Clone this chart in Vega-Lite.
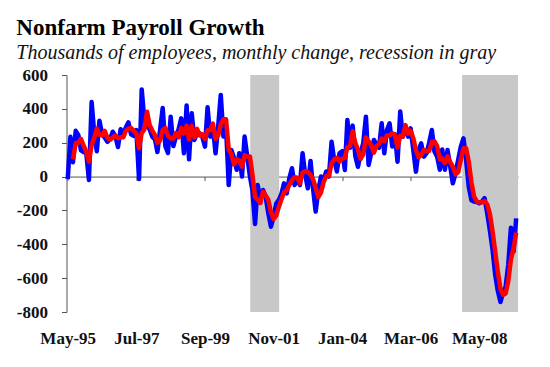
{
  "$schema": "https://vega.github.io/schema/vega-lite/v6.json",
  "width": 451.5,
  "height": 237,
  "autosize": {"type": "none"},
  "padding": {"left": 66.5, "top": 75, "right": 32, "bottom": 55},
  "background": "white",
  "title": {
    "text": "Nonfarm Payroll Growth",
    "subtitle": "Thousands of employees, monthly change, recession in gray",
    "anchor": "start",
    "frame": "bounds",
    "font": "Liberation Serif",
    "fontSize": 23,
    "fontWeight": "bold",
    "color": "#000000",
    "subtitleFont": "Liberation Serif",
    "subtitleFontSize": 20,
    "subtitleFontStyle": "italic",
    "subtitleColor": "#111111",
    "subtitlePadding": 3,
    "offset": 3
  },
  "datasets": {
    "bands": [
      {"d": "2001-02-04", "e": "2002-01-04"},
      {"d": "2007-10-16", "e": "2009-07-22"}
    ],
    "pay": [
      {"d": "1995-05-01", "v": -15},
      {"d": "1995-06-01", "v": 235},
      {"d": "1995-07-01", "v": 85, "a": 102},
      {"d": "1995-08-01", "v": 270, "a": 197},
      {"d": "1995-09-01", "v": 245, "a": 200},
      {"d": "1995-10-01", "v": 155, "a": 223},
      {"d": "1995-11-01", "v": 145, "a": 182},
      {"d": "1995-12-01", "v": 140, "a": 147},
      {"d": "1996-01-01", "v": -20, "a": 88},
      {"d": "1996-02-01", "v": 440, "a": 187},
      {"d": "1996-03-01", "v": 260, "a": 227},
      {"d": "1996-04-01", "v": 150, "a": 283},
      {"d": "1996-05-01", "v": 330, "a": 247},
      {"d": "1996-06-01", "v": 250, "a": 243},
      {"d": "1996-07-01", "v": 230, "a": 270},
      {"d": "1996-08-01", "v": 205, "a": 228},
      {"d": "1996-09-01", "v": 220, "a": 218},
      {"d": "1996-10-01", "v": 265, "a": 230},
      {"d": "1996-11-01", "v": 240, "a": 242},
      {"d": "1996-12-01", "v": 175, "a": 227},
      {"d": "1997-01-01", "v": 280, "a": 232},
      {"d": "1997-02-01", "v": 240, "a": 232},
      {"d": "1997-03-01", "v": 290, "a": 270},
      {"d": "1997-04-01", "v": 320, "a": 283},
      {"d": "1997-05-01", "v": 250, "a": 287},
      {"d": "1997-06-01", "v": 240, "a": 270},
      {"d": "1997-07-01", "v": 275, "a": 255},
      {"d": "1997-08-01", "v": -15, "a": 167},
      {"d": "1997-09-01", "v": 515, "a": 258},
      {"d": "1997-10-01", "v": 335, "a": 278},
      {"d": "1997-11-01", "v": 300, "a": 383},
      {"d": "1997-12-01", "v": 280, "a": 305},
      {"d": "1998-01-01", "v": 235, "a": 272},
      {"d": "1998-02-01", "v": 220, "a": 245},
      {"d": "1998-03-01", "v": 145, "a": 200},
      {"d": "1998-04-01", "v": 275, "a": 213},
      {"d": "1998-05-01", "v": 405, "a": 275},
      {"d": "1998-06-01", "v": 180, "a": 287},
      {"d": "1998-07-01", "v": 140, "a": 242},
      {"d": "1998-08-01", "v": 354, "a": 225},
      {"d": "1998-09-01", "v": 180, "a": 225},
      {"d": "1998-10-01", "v": 236, "a": 257},
      {"d": "1998-11-01", "v": 280, "a": 232},
      {"d": "1998-12-01", "v": 344, "a": 287},
      {"d": "1999-01-01", "v": 138, "a": 254},
      {"d": "1999-02-01", "v": 420, "a": 301},
      {"d": "1999-03-01", "v": 102, "a": 220},
      {"d": "1999-04-01", "v": 374, "a": 299},
      {"d": "1999-05-01", "v": 216, "a": 231},
      {"d": "1999-06-01", "v": 256, "a": 282},
      {"d": "1999-07-01", "v": 256, "a": 243},
      {"d": "1999-08-01", "v": 236, "a": 249},
      {"d": "1999-09-01", "v": 177, "a": 223},
      {"d": "1999-10-01", "v": 409, "a": 274},
      {"d": "1999-11-01", "v": 236, "a": 274},
      {"d": "1999-12-01", "v": 295, "a": 313},
      {"d": "2000-01-01", "v": 138, "a": 223},
      {"d": "2000-02-01", "v": 300, "a": 244},
      {"d": "2000-03-01", "v": 482, "a": 307},
      {"d": "2000-04-01", "v": 236, "a": 339},
      {"d": "2000-05-01", "v": 295, "a": 338},
      {"d": "2000-06-01", "v": -50, "a": 160},
      {"d": "2000-07-01", "v": 157, "a": 134},
      {"d": "2000-08-01", "v": 110, "a": 72},
      {"d": "2000-09-01", "v": 40, "a": 102},
      {"d": "2000-10-01", "v": 138, "a": 96},
      {"d": "2000-11-01", "v": 0, "a": 59},
      {"d": "2000-12-01", "v": 236, "a": 125},
      {"d": "2001-01-01", "v": 118, "a": 118},
      {"d": "2001-02-01", "v": 0, "a": 118},
      {"d": "2001-03-01", "v": -80, "a": 13},
      {"d": "2001-04-01", "v": -280, "a": -120},
      {"d": "2001-05-01", "v": -50, "a": -137},
      {"d": "2001-06-01", "v": -138, "a": -156},
      {"d": "2001-07-01", "v": -79, "a": -89},
      {"d": "2001-08-01", "v": -118, "a": -112},
      {"d": "2001-09-01", "v": -217, "a": -138},
      {"d": "2001-10-01", "v": -296, "a": -210},
      {"d": "2001-11-01", "v": -237, "a": -250},
      {"d": "2001-12-01", "v": -160, "a": -231},
      {"d": "2002-01-01", "v": -138, "a": -178},
      {"d": "2002-02-01", "v": -99, "a": -132},
      {"d": "2002-03-01", "v": -40, "a": -92},
      {"d": "2002-04-01", "v": -99, "a": -79},
      {"d": "2002-05-01", "v": -10, "a": -50},
      {"d": "2002-06-01", "v": 49, "a": -20},
      {"d": "2002-07-01", "v": -50, "a": -4},
      {"d": "2002-08-01", "v": -20, "a": -7},
      {"d": "2002-09-01", "v": -50, "a": -40},
      {"d": "2002-10-01", "v": 138, "a": 23},
      {"d": "2002-11-01", "v": 9, "a": 32},
      {"d": "2002-12-01", "v": -69, "a": 26},
      {"d": "2003-01-01", "v": 92, "a": 11},
      {"d": "2003-02-01", "v": -79, "a": -19},
      {"d": "2003-03-01", "v": -207, "a": -65},
      {"d": "2003-04-01", "v": -79, "a": -122},
      {"d": "2003-05-01", "v": 0, "a": -95},
      {"d": "2003-06-01", "v": -20, "a": -33},
      {"d": "2003-07-01", "v": 30, "a": 3},
      {"d": "2003-08-01", "v": 0, "a": 3},
      {"d": "2003-09-01", "v": 206, "a": 79},
      {"d": "2003-10-01", "v": 98, "a": 101},
      {"d": "2003-11-01", "v": 30, "a": 111},
      {"d": "2003-12-01", "v": 138, "a": 89},
      {"d": "2004-01-01", "v": 150, "a": 106},
      {"d": "2004-02-01", "v": 39, "a": 109},
      {"d": "2004-03-01", "v": 334, "a": 174},
      {"d": "2004-04-01", "v": 170, "a": 181},
      {"d": "2004-05-01", "v": 301, "a": 268},
      {"d": "2004-06-01", "v": 120, "a": 197},
      {"d": "2004-07-01", "v": 58, "a": 160},
      {"d": "2004-08-01", "v": 138, "a": 105},
      {"d": "2004-09-01", "v": 200, "a": 132},
      {"d": "2004-10-01", "v": 354, "a": 231},
      {"d": "2004-11-01", "v": 69, "a": 208},
      {"d": "2004-12-01", "v": 138, "a": 187},
      {"d": "2005-01-01", "v": 216, "a": 141},
      {"d": "2005-02-01", "v": 190, "a": 181},
      {"d": "2005-03-01", "v": 170, "a": 192},
      {"d": "2005-04-01", "v": 315, "a": 225},
      {"d": "2005-05-01", "v": 138, "a": 208},
      {"d": "2005-06-01", "v": 275, "a": 243},
      {"d": "2005-07-01", "v": 315, "a": 243},
      {"d": "2005-08-01", "v": 177, "a": 256},
      {"d": "2005-09-01", "v": 250, "a": 247},
      {"d": "2005-10-01", "v": 88, "a": 172},
      {"d": "2005-11-01", "v": 384, "a": 241},
      {"d": "2005-12-01", "v": 236, "a": 236},
      {"d": "2006-01-01", "v": 291, "a": 304},
      {"d": "2006-02-01", "v": 236, "a": 254},
      {"d": "2006-03-01", "v": 285, "a": 271},
      {"d": "2006-04-01", "v": 157, "a": 226},
      {"d": "2006-05-01", "v": 29, "a": 157},
      {"d": "2006-06-01", "v": 157, "a": 114},
      {"d": "2006-07-01", "v": 196, "a": 127},
      {"d": "2006-08-01", "v": 118, "a": 157},
      {"d": "2006-09-01", "v": 138, "a": 151},
      {"d": "2006-10-01", "v": 200, "a": 152},
      {"d": "2006-11-01", "v": 275, "a": 204},
      {"d": "2006-12-01", "v": 148, "a": 208},
      {"d": "2007-01-01", "v": 118, "a": 180},
      {"d": "2007-02-01", "v": 40, "a": 102},
      {"d": "2007-03-01", "v": 160, "a": 106},
      {"d": "2007-04-01", "v": 40, "a": 80},
      {"d": "2007-05-01", "v": 157, "a": 119},
      {"d": "2007-06-01", "v": 60, "a": 86},
      {"d": "2007-07-01", "v": -40, "a": 59},
      {"d": "2007-08-01", "v": 20, "a": 13},
      {"d": "2007-09-01", "v": 100, "a": 27},
      {"d": "2007-10-01", "v": 177, "a": 99},
      {"d": "2007-11-01", "v": 226, "a": 168},
      {"d": "2007-12-01", "v": 98, "a": 167},
      {"d": "2008-01-01", "v": -60, "a": 88},
      {"d": "2008-02-01", "v": -140, "a": -34},
      {"d": "2008-03-01", "v": -148, "a": -116},
      {"d": "2008-04-01", "v": -150, "a": -146},
      {"d": "2008-05-01", "v": -158, "a": -152},
      {"d": "2008-06-01", "v": -148, "a": -152},
      {"d": "2008-07-01", "v": -128, "a": -145},
      {"d": "2008-08-01", "v": -217, "a": -164},
      {"d": "2008-09-01", "v": -320, "a": -222},
      {"d": "2008-10-01", "v": -430, "a": -322},
      {"d": "2008-11-01", "v": -580, "a": -443},
      {"d": "2008-12-01", "v": -675, "a": -562},
      {"d": "2009-01-01", "v": -741, "a": -665},
      {"d": "2009-02-01", "v": -681, "a": -699},
      {"d": "2009-03-01", "v": -652, "a": -691},
      {"d": "2009-04-01", "v": -519, "a": -617},
      {"d": "2009-05-01", "v": -303, "a": -491},
      {"d": "2009-06-01", "v": -443, "a": -422},
      {"d": "2009-07-01", "v": -247, "a": -331}
    ]
  },
  "encoding": {
    "x": {
      "field": "d",
      "type": "temporal",
      "scale": {
        "type": "utc",
        "domain": [
          {"year": 1995, "month": 4, "date": 17, "utc": true},
          {"year": 2009, "month": 7, "date": 22, "utc": true}
        ]
      },
      "axis": {
        "title": null,
        "orient": "bottom",
        "offset": -135.43,
        "values": [
          {"year": 1995, "month": 5, "date": 1, "utc": true},
          {"year": 1997, "month": 7, "date": 1, "utc": true},
          {"year": 1999, "month": 9, "date": 1, "utc": true},
          {"year": 2001, "month": 11, "date": 1, "utc": true},
          {"year": 2004, "month": 1, "date": 1, "utc": true},
          {"year": 2006, "month": 3, "date": 1, "utc": true},
          {"year": 2008, "month": 5, "date": 1, "utc": true}
        ],
        "labelExpr": "utcFormat(datum.value, '%b-%y')",
        "tickSize": 4,
        "labelPadding": 150,
        "labelFlush": false,
        "labelOverlap": false
      }
    }
  },
  "layer": [
    {
      "data": {"name": "bands"},
      "mark": {"type": "rect", "color": "#c8c8c8"},
      "encoding": {"x2": {"field": "e"}}
    },
    {
      "data": {"name": "pay"},
      "mark": {"type": "line", "color": "#0000ff", "strokeWidth": 4.5, "strokeJoin": "round"},
      "encoding": {
        "y": {
          "field": "v",
          "type": "quantitative",
          "scale": {"domain": [-800, 600], "nice": false, "zero": false},
          "axis": {"title": null, "values": [-800, -600, -400, -200, 0, 200, 400, 600], "labelExpr": "'' + datum.value"}
        }
      }
    },
    {
      "data": {"name": "pay"},
      "mark": {"type": "line", "color": "#ff0000", "strokeWidth": 4.5, "strokeJoin": "round"},
      "encoding": {
        "y": {
          "field": "a",
          "type": "quantitative",
          "scale": {"domain": [-800, 600], "nice": false, "zero": false},
          "axis": {"title": null, "values": [-800, -600, -400, -200, 0, 200, 400, 600], "labelExpr": "'' + datum.value"}
        }
      }
    }
  ],
  "config": {
    "view": {"stroke": null},
    "axis": {
      "grid": false,
      "domainColor": "#555555",
      "tickColor": "#555555",
      "labelFont": "Liberation Serif",
      "labelFontSize": 17,
      "labelFontWeight": "bold",
      "labelColor": "#111111"
    },
    "axisY": {"tickSize": 5, "labelPadding": 14}
  }
}
